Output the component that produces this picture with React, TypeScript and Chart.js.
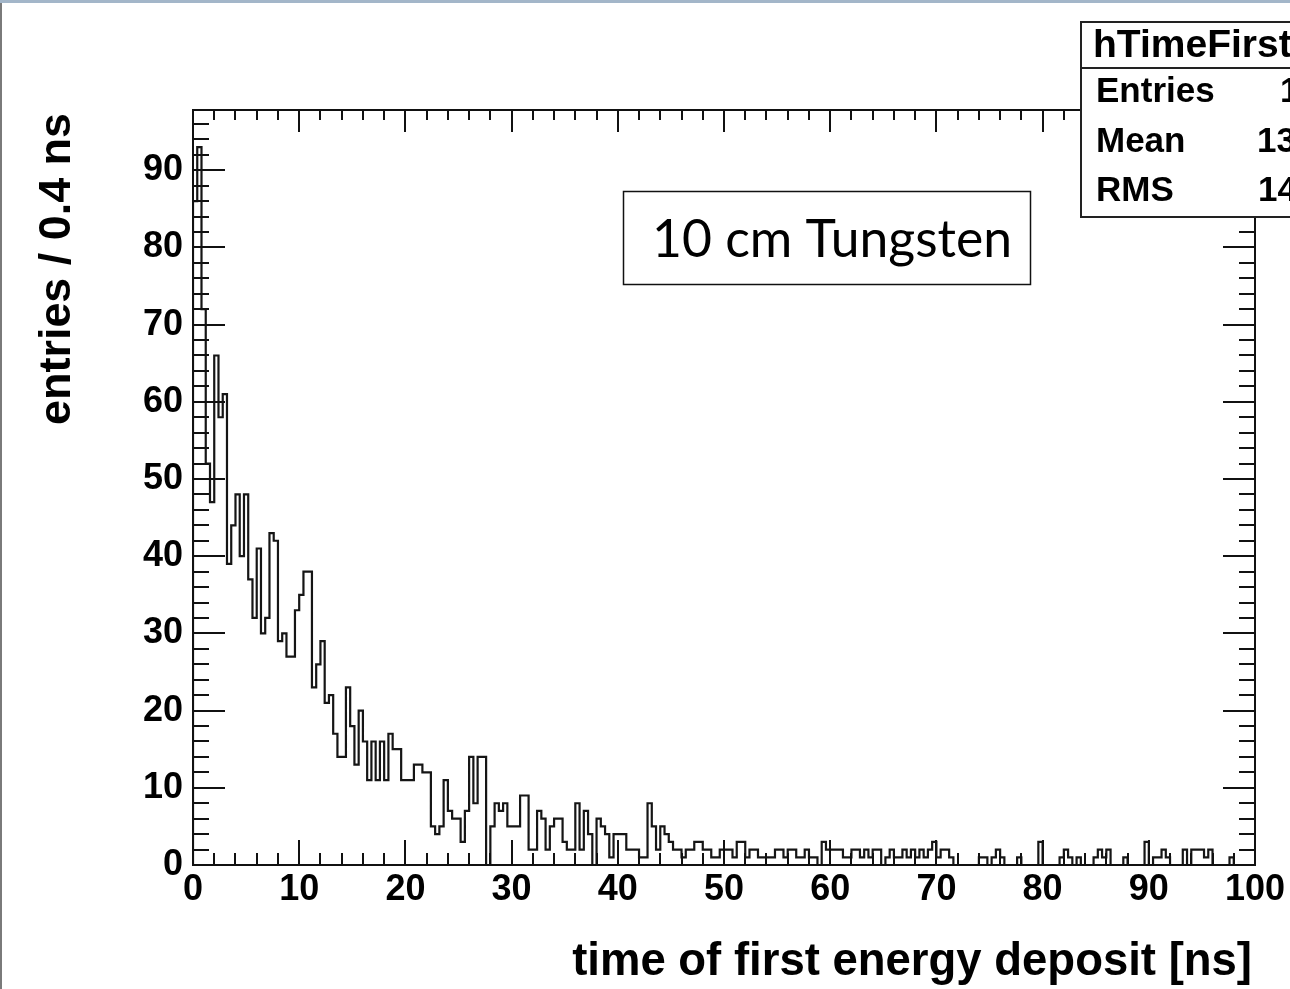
import React, { useEffect, useRef } from 'react';
import { Chart, registerables } from 'chart.js';

Chart.register(...registerables);

// ---- data ----
const binWidth = 0.4;
const binCounts: number[] = [
  86, 93, 72, 52, 47, 66, 58, 61, 39, 44,
  48, 40, 48, 37, 32, 41, 30, 32, 43, 42,
  29, 30, 27, 27, 33, 35, 38, 38, 23, 26,
  29, 21, 22, 17, 14, 14, 23, 18, 13, 20,
  16, 11, 16, 11, 16, 11, 17, 15, 15, 11,
  11, 11, 13, 13, 12, 12, 5, 4, 5, 11,
  7, 6, 6, 3, 7, 14, 8, 14, 14, 0,
  5, 8, 7, 8, 5, 5, 5, 9, 9, 2,
  2, 7, 6, 2, 5, 6, 6, 3, 2, 2,
  8, 2, 7, 4, 0, 6, 5, 4, 1, 4,
  4, 4, 2, 2, 2, 1, 1, 8, 5, 2,
  5, 4, 3, 2, 2, 1, 2, 2, 3, 3,
  2, 2, 1, 1, 2, 2, 2, 1, 3, 3,
  1, 2, 2, 1, 1, 1, 1, 2, 2, 1,
  2, 2, 1, 1, 2, 1, 1, 0, 3, 2,
  2, 2, 2, 1, 1, 2, 2, 1, 2, 1,
  2, 2, 0, 1, 2, 1, 1, 2, 1, 2,
  1, 2, 1, 2, 3, 1, 2, 2, 1, 0,
  0, 0, 0, 0, 0, 1, 1, 0, 1, 2,
  1, 0, 0, 0, 1, 0, 0, 0, 0, 3,
  0, 0, 0, 0, 1, 2, 1, 0, 1, 0,
  0, 0, 1, 2, 1, 2, 0, 0, 0, 1,
  0, 0, 0, 0, 3, 0, 1, 1, 2, 1,
  0, 0, 0, 2, 0, 2, 2, 2, 1, 2,
  0, 0, 0, 0, 1, 0, 0, 0, 0, 0,
];
const xTickValues = [0, 10, 20, 30, 40, 50, 60, 70, 80, 90, 100];
const yTickValues = [0, 10, 20, 30, 40, 50, 60, 70, 80, 90];
const xMin = 0;
const xMax = 100;
const yMin = 0;
const yMax = 97.8;
const xMinorStep = 2;
const yMinorStep = 2;
const xTitle = 'time of first energy deposit [ns]';
const yTitle = 'entries / 0.4 ns';
const statsTitle = 'hTimeFirst';
const statsLabels = ['Entries', 'Mean', 'RMS'];
const statsValues = ['1', '13', '14'];
const boxLabel = '10 cm Tungsten';

const W = 1290;
const H = 989;
const BOLD = '"Liberation Sans", Arial, Helvetica, sans-serif';

function fitFont(ctx: CanvasRenderingContext2D, text: string, width: number, weight: string, family: string) {
  ctx.font = `${weight} 100px ${family}`;
  const w = ctx.measureText(text).width;
  return (100 * width) / w;
}

const rootPlugin = {
  id: 'rootStyle',
  afterDraw(chart: any) {
    const ctx: CanvasRenderingContext2D = chart.ctx;
    const { left, right, top, bottom } = chart.chartArea;
    const xs = chart.scales.x;
    const ys = chart.scales.y;
    ctx.save();

    // page borders (slide edge)
    ctx.fillStyle = '#a3b6c9';
    ctx.fillRect(0, 0, W, 3);
    ctx.fillStyle = '#7a7a7a';
    ctx.fillRect(0, 3, 2, H - 3);

    // frame
    ctx.strokeStyle = '#111';
    ctx.lineWidth = 2;
    ctx.strokeRect(left, top, right - left, bottom - top);

    // ticks
    ctx.lineWidth = 2;
    ctx.beginPath();
    for (let v = xMin; v <= xMax + 1e-9; v += xMinorStep) {
      const px = Math.round(xs.getPixelForValue(v));
      const major = xTickValues.includes(Math.round(v));
      const lb = major ? 25 : 12;
      const lt = major ? 22 : 10;
      ctx.moveTo(px, bottom);
      ctx.lineTo(px, bottom - lb);
      ctx.moveTo(px, top);
      ctx.lineTo(px, top + lt);
    }
    for (let v = yMin; v <= yMax + 1e-9; v += yMinorStep) {
      const py = Math.round(ys.getPixelForValue(v));
      const major = yTickValues.includes(Math.round(v));
      const l = major ? 32 : 16;
      ctx.moveTo(left, py);
      ctx.lineTo(left + l, py);
      ctx.moveTo(right, py);
      ctx.lineTo(right - l, py);
    }
    ctx.stroke();

    // axis titles
    ctx.fillStyle = '#000';
    let fs = fitFont(ctx, xTitle, 680, 'bold', BOLD);
    ctx.font = `bold ${fs}px ${BOLD}`;
    ctx.textAlign = 'right';
    ctx.textBaseline = 'middle';
    ctx.fillText(xTitle, 1252, 962);

    fs = fitFont(ctx, yTitle, 312, 'bold', BOLD);
    ctx.font = `bold ${fs}px ${BOLD}`;
    ctx.save();
    ctx.translate(58, 113);
    ctx.rotate(-Math.PI / 2);
    ctx.textAlign = 'right';
    ctx.textBaseline = 'middle';
    ctx.fillText(yTitle, 0, 0);
    ctx.restore();

    // text box
    ctx.fillStyle = '#fff';
    ctx.fillRect(623, 191, 408, 94);
    ctx.strokeStyle = '#111';
    ctx.lineWidth = 1.5;
    ctx.strokeRect(623.5, 191.5, 407, 93);
    const fam = 'Lato, "Open Sans", sans-serif';
    fs = fitFont(ctx, boxLabel, 360, 'normal', fam);
    ctx.font = `normal ${fs}px ${fam}`;
    ctx.fillStyle = '#000';
    ctx.textAlign = 'center';
    ctx.textBaseline = 'middle';
    ctx.fillText(boxLabel, 832, 240);

    // stats box
    ctx.fillStyle = '#fff';
    ctx.fillRect(1081, 22, W - 1081, 195);
    ctx.strokeStyle = '#222';
    ctx.lineWidth = 2;
    ctx.strokeRect(1081, 22, W - 1081 + 10, 195);
    ctx.beginPath();
    ctx.moveTo(1081, 68);
    ctx.lineTo(W, 68);
    ctx.stroke();
    ctx.fillStyle = '#000';
    ctx.textAlign = 'left';
    ctx.textBaseline = 'middle';
    ctx.font = `bold 39px ${BOLD}`;
    ctx.fillText(statsTitle, 1093, 46);
    ctx.font = `bold 35px ${BOLD}`;
    const rowY = [92, 142, 191];
    const valX = [1280, 1257, 1258];
    statsLabels.forEach((s, i) => {
      ctx.fillText(s, 1096, rowY[i]);
      ctx.fillText(statsValues[i], valX[i], rowY[i]);
    });

    ctx.restore();
  },
};

export default function App() {
  const ref = useRef<HTMLCanvasElement | null>(null);
  useEffect(() => {
    if (!ref.current) return;
    const points: { x: number; y: number }[] = [{ x: xMin, y: 0 }];
    binCounts.forEach((c, i) => points.push({ x: xMin + i * binWidth, y: c }));
    const end = xMin + binCounts.length * binWidth;
    points.push({ x: end, y: binCounts[binCounts.length - 1] });
    points.push({ x: end, y: 0 });

    const chart = new Chart(ref.current, {
      type: 'line',
      data: {
        datasets: [
          {
            data: points,
            stepped: 'before',
            borderColor: '#151515',
            borderWidth: 2.2,
            pointRadius: 0,
            fill: false,
          } as any,
        ],
      },
      options: {
        animation: false,
        responsive: false,
        events: [],
        layout: { padding: { top: 110, right: 35, left: 0, bottom: 0 } },
        plugins: { legend: { display: false }, tooltip: { enabled: false }, title: { display: false } },
        scales: {
          x: {
            type: 'linear',
            min: xMin,
            max: xMax,
            afterBuildTicks: (s: any) => {
              s.ticks = xTickValues.map((v) => ({ value: v }));
            },
            afterFit: (s: any) => {
              s.height = H - 865;
            },
            grid: { display: false, drawTicks: false, tickLength: 0 },
            border: { display: false },
            ticks: {
              color: '#000',
              padding: 3,
              maxRotation: 0,
              autoSkip: false,
              font: { family: BOLD, weight: 'bold', size: 36 },
              callback: (v: any) => String(v),
            },
          },
          y: {
            type: 'linear',
            min: yMin,
            max: yMax,
            afterBuildTicks: (s: any) => {
              s.ticks = yTickValues.map((v) => ({ value: v }));
            },
            afterFit: (s: any) => {
              s.width = 193;
            },
            grid: { display: false, drawTicks: false, tickLength: 0 },
            border: { display: false },
            ticks: {
              color: '#000',
              padding: 10,
              autoSkip: false,
              font: { family: BOLD, weight: 'bold', size: 36 },
              callback: (v: any) => String(v),
            },
          },
        },
      },
      plugins: [rootPlugin],
    });
    return () => chart.destroy();
  }, []);

  return (
    <div style={{ position: 'fixed', left: 0, top: 0, width: W, height: H, background: '#fff' }}>
      <canvas ref={ref} width={W} height={H} style={{ display: 'block', width: W, height: H }} />
    </div>
  );
}
